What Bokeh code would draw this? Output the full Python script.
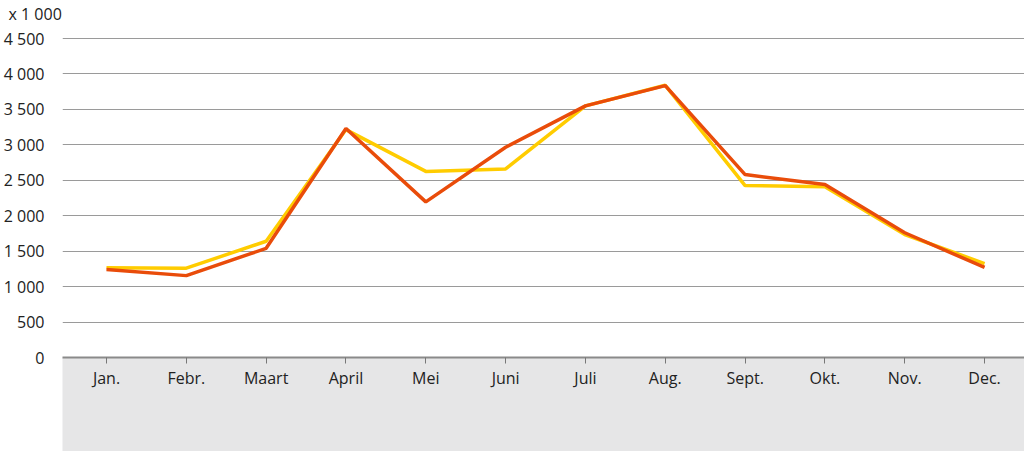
from bokeh.plotting import figure
from bokeh.models import Range1d, FixedTicker, CustomJSTickFormatter, Title
from bokeh.embed import file_html
from bokeh.resources import INLINE

months = ["Jan.", "Febr.", "Maart", "April", "Mei", "Juni", "Juli", "Aug.", "Sept.", "Okt.", "Nov.", "Dec."]
series_yellow = [1265, 1260, 1640, 3215, 2625, 2660, 3550, 3840, 2425, 2410, 1735, 1325]
series_orange = [1240, 1155, 1540, 3230, 2195, 2965, 3550, 3835, 2580, 2440, 1760, 1270]
y_ticks = [0, 500, 1000, 1500, 2000, 2500, 3000, 3500, 4000, 4500]
unit_label = "x 1 000"

x = list(range(len(months)))
FONT = "Open Sans"
BAND = "#e6e6e7"

p = figure(width=1024, height=451, output_backend="svg", toolbar_location=None,
           x_range=Range1d(-0.551, 11.5), y_range=Range1d(0, 4697.5),
           min_border_left=62, min_border_right=0, min_border_top=24, min_border_bottom=0)
p.outline_line_color = None
p.background_fill_color = "white"
p.border_fill_color = "white"

t = Title(text=unit_label, align="left", offset=-54, standoff=0,
          text_font=FONT, text_font_size="16px", text_font_style="normal",
          text_color="#222222")
p.add_layout(t, "above")

# grid
p.xgrid.visible = False
p.ygrid.ticker = FixedTicker(ticks=y_ticks)
p.ygrid.grid_line_color = "#9a9a9a"
p.ygrid.grid_line_width = 1

# y axis
p.yaxis.ticker = FixedTicker(ticks=y_ticks)
p.yaxis.formatter = CustomJSTickFormatter(code="return tick.toString().replace(/\\B(?=(\\d{3})+(?!\\d))/g, ' ');")
p.yaxis.axis_line_color = None
p.yaxis.major_tick_line_color = None
p.yaxis.minor_tick_line_color = None
p.yaxis.major_label_standoff = 12
p.yaxis.major_label_text_font = FONT
p.yaxis.major_label_text_font_size = "16px"
p.yaxis.major_label_text_color = "#222222"

# x axis
xa = p.xaxis[0]
xa.ticker = FixedTicker(ticks=x)
xa.major_label_overrides = {i: m for i, m in zip(x, months)}
xa.minor_tick_line_color = None
xa.axis_line_color = "#8a8a8a"
xa.axis_line_width = 2
xa.major_tick_line_color = "#777777"
xa.major_tick_in = 0
xa.major_tick_out = 6
xa.major_label_standoff = 3
xa.major_label_text_font = FONT
xa.major_label_text_font_size = "16px"
xa.major_label_text_color = "#222222"
xa.axis_label = "\u00a0"
xa.axis_label_standoff = 15
xa.axis_label_text_font_size = "38px"
xa.background_fill_color = BAND

p.line(x, series_yellow, line_color="#FFCC00", line_width=3.5)
p.line(x, series_orange, line_color="#E94C0A", line_width=3.5)

open("out.html", "w").write(file_html(p, INLINE))
